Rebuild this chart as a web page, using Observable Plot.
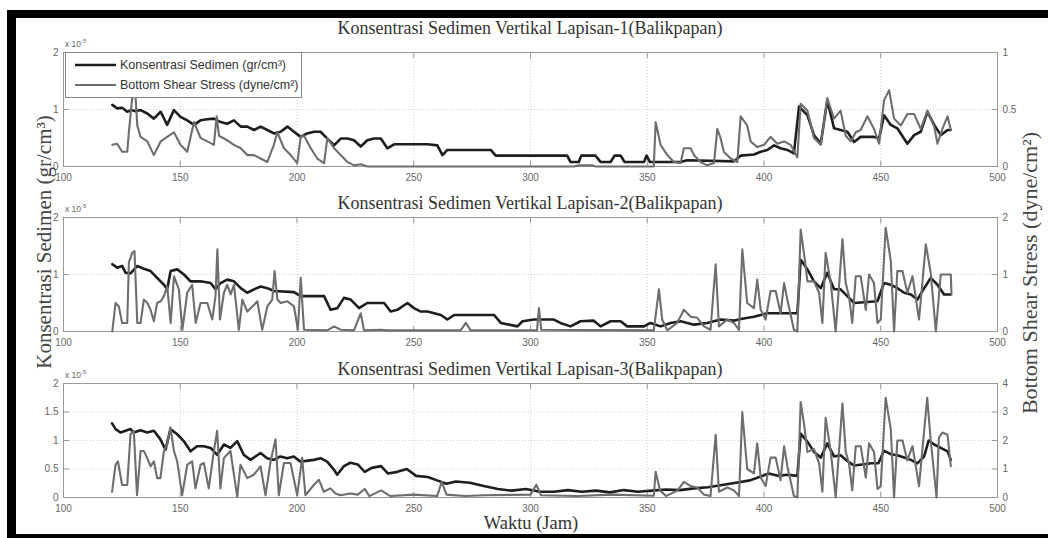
<!DOCTYPE html>
<html>
<head>
<meta charset="utf-8">
<script src="https://cdn.jsdelivr.net/npm/d3@7"></script>
<script src="https://cdn.jsdelivr.net/npm/@observablehq/plot@0.6"></script>
<style>
  html, body { margin: 0; padding: 0; background: #fff; }
  #wrap { position: relative; width: 1048px; height: 538px; overflow: hidden; background: #fff; }
  .panel { position: absolute; left: 0; }
  #overlay { position: absolute; left: 0; top: 0; pointer-events: none; }
</style>
</head>
<body>
<div id="wrap"></div>
<script>
// ---------------- DATA (hours, value) ----------------
const xTicks = [100, 150, 200, 250, 300, 350, 400, 450, 500];
const titles = [
  "Konsentrasi Sedimen Vertikal Lapisan-1(Balikpapan)",
  "Konsentrasi Sedimen Vertikal Lapisan-2(Balikpapan)",
  "Konsentrasi Sedimen Vertikal Lapisan-3(Balikpapan)"
];
const leftTicks1 = [0, 1, 2];
const leftTicks2 = [0, 1, 2];
const leftTicks3 = [0, 0.5, 1, 1.5, 2];
const rightTicks1 = [0, 0.5, 1];
const rightTicks2 = [0, 1, 2];
const rightTicks3 = [0, 1, 2, 3, 4];

// Konsentrasi Sedimen (x 10^-5 gr/cm3)
const sed1 = [[120.9,1.08],[123.0,1.02],[125.1,1.03],[127.3,0.96],[129.0,0.99],[130.9,0.97],[133.0,0.99],[135.9,0.93],[138.7,0.84],[141.6,0.96],[144.4,0.73],[147.3,0.99],[150.1,0.87],[153.0,0.81],[155.9,0.73],[158.7,0.81],[161.6,0.83],[164.4,0.84],[167.3,0.78],[170.1,0.75],[173.0,0.81],[175.9,0.70],[178.7,0.70],[181.6,0.64],[184.4,0.70],[187.3,0.64],[190.1,0.58],[193.0,0.61],[195.9,0.70],[198.7,0.61],[201.6,0.52],[204.4,0.58],[207.3,0.61],[210.1,0.61],[213.0,0.49],[215.9,0.37],[218.7,0.49],[221.6,0.49],[224.4,0.46],[227.3,0.35],[230.1,0.46],[233.0,0.49],[235.9,0.49],[238.7,0.32],[241.6,0.39],[255.9,0.39],[260.1,0.37],[262.3,0.20],[264.4,0.29],[283.0,0.29],[285.1,0.19],[315.7,0.19],[317.1,0.08],[320.7,0.08],[321.7,0.19],[327.8,0.19],[330.0,0.08],[334.3,0.08],[336.0,0.19],[338.6,0.19],[340.3,0.08],[348.6,0.08],[349.7,0.19],[351.1,0.08],[364.3,0.08],[367.1,0.11],[387.1,0.09],[390.0,0.19],[395.7,0.21],[398.6,0.26],[401.4,0.29],[404.3,0.37],[407.1,0.32],[410.0,0.29],[412.8,0.23],[415.0,1.05],[418.6,0.90],[421.4,0.55],[424.3,0.40],[427.1,1.16],[430.0,0.67],[432.8,0.64],[435.7,0.61],[438.6,0.43],[441.4,0.52],[447.1,0.52],[449.3,0.49],[451.4,0.90],[454.3,0.73],[457.1,0.67],[461.4,0.40],[464.3,0.55],[467.1,0.61],[470.0,0.96],[472.9,0.73],[475.7,0.55],[478.6,0.64],[480.0,0.64]];
const sed2 = [[120.9,1.18],[123.0,1.12],[125.1,1.15],[126.6,1.03],[128.7,1.02],[131.6,1.15],[134.4,1.10],[137.3,1.06],[140.1,0.94],[143.0,0.82],[144.4,0.74],[145.9,1.06],[148.7,1.09],[151.6,1.00],[154.4,0.88],[158.7,0.88],[163.0,0.85],[165.1,0.74],[167.3,0.85],[170.1,0.91],[173.0,0.88],[175.9,0.76],[178.7,0.68],[181.6,0.74],[184.4,0.79],[187.3,0.76],[190.1,0.71],[198.7,0.69],[201.6,0.62],[211.6,0.62],[214.4,0.38],[217.3,0.41],[220.1,0.59],[223.0,0.56],[226.6,0.41],[230.1,0.50],[237.3,0.50],[240.1,0.35],[243.0,0.38],[247.3,0.50],[250.1,0.41],[253.0,0.35],[255.9,0.35],[261.6,0.29],[264.4,0.21],[267.3,0.29],[284.4,0.29],[287.3,0.15],[294.4,0.09],[296.6,0.18],[301.4,0.21],[310.0,0.21],[312.8,0.15],[317.1,0.09],[321.4,0.18],[327.1,0.19],[330.0,0.09],[334.3,0.18],[338.6,0.18],[341.4,0.09],[348.6,0.09],[351.4,0.15],[355.7,0.09],[360.0,0.15],[364.3,0.18],[370.0,0.12],[375.7,0.15],[381.4,0.21],[387.1,0.19],[390.0,0.22],[395.7,0.26],[398.6,0.29],[401.4,0.32],[414.3,0.32],[415.7,1.26],[418.6,1.09],[421.4,0.88],[424.3,0.76],[427.1,1.03],[430.0,0.74],[432.8,0.74],[435.7,0.62],[438.6,0.50],[448.6,0.53],[451.4,0.85],[454.3,0.82],[457.1,0.76],[460.0,0.68],[462.9,0.65],[465.7,0.56],[468.6,0.76],[471.4,0.94],[474.3,0.82],[477.1,0.65],[480.0,0.65]];
const sed3 = [[120.8,1.30],[122.3,1.20],[124.4,1.14],[126.6,1.17],[128.7,1.20],[130.1,1.14],[133.0,1.18],[135.8,1.14],[138.7,1.17],[141.5,1.02],[143.7,0.84],[145.8,1.20],[148.7,1.11],[151.5,0.99],[154.4,0.81],[157.2,0.90],[160.1,0.90],[163.0,0.87],[165.8,0.75],[168.7,0.93],[171.5,0.87],[174.4,0.99],[177.2,0.75],[180.1,0.66],[184.4,0.78],[187.2,0.69],[190.1,0.66],[192.9,0.72],[195.8,0.69],[198.6,0.72],[201.5,0.63],[207.2,0.66],[210.1,0.69],[212.9,0.63],[215.8,0.49],[217.2,0.40],[220.1,0.55],[222.9,0.61],[226,0.58],[229,0.45],[232,0.52],[236,0.55],[239,0.42],[243,0.45],[247,0.50],[251,0.38],[256,0.36],[260,0.30],[264,0.24],[268,0.28],[274,0.26],[280,0.20],[286,0.15],[292,0.12],[298,0.15],[304,0.10],[310,0.10],[316,0.13],[322,0.10],[328,0.12],[334,0.09],[340,0.13],[346,0.10],[352,0.12],[358,0.14],[364,0.13],[370,0.16],[376,0.18],[382,0.22],[388,0.26],[394,0.30],[398,0.36],[402,0.42],[406,0.38],[410,0.40],[414.3,0.38],[415.7,1.12],[418.6,0.98],[421.4,0.80],[424.3,0.70],[427.1,0.95],[430,0.72],[432.8,0.74],[435.7,0.64],[438.6,0.56],[442,0.58],[446,0.60],[449,0.60],[451.4,0.82],[454.3,0.76],[457.1,0.74],[460,0.70],[462.9,0.66],[465.7,0.60],[468.6,0.72],[470.5,1.00],[472.9,0.93],[475.7,0.87],[478.6,0.81],[480,0.66]];

// Bottom Shear Stress (dyne/cm2), own (right-axis) units
const shear1 = [[120.9,0.19],[123.0,0.20],[125.1,0.13],[127.3,0.13],[128.0,0.30],[129.4,0.60],[130.1,0.61],[130.9,0.60],[131.6,0.36],[133.0,0.26],[135.9,0.22],[138.7,0.10],[141.6,0.22],[144.4,0.26],[147.3,0.30],[150.1,0.19],[153.0,0.13],[155.9,0.39],[158.7,0.25],[161.6,0.22],[164.4,0.19],[165.6,0.44],[166.6,0.27],[170.1,0.23],[173.0,0.19],[175.9,0.16],[178.7,0.10],[181.6,0.10],[184.4,0.07],[187.3,0.04],[190.1,0.19],[191.6,0.30],[194.4,0.16],[197.3,0.10],[200.1,0.03],[201.6,0.26],[203.0,0.27],[205.9,0.16],[208.7,0.07],[211.6,0.03],[213.0,0.25],[215.9,0.16],[218.7,0.10],[221.6,0.04],[224.4,0.01],[227.3,0.02],[230.1,0],[318.6,0],[320.7,0.01],[326.4,0.01],[327.8,0],[352.8,0],[353.6,0.39],[355.7,0.19],[358.6,0.10],[361.4,0.04],[364.3,0.03],[365.7,0.16],[368.6,0.16],[370.0,0.10],[372.8,0.04],[375.7,0.01],[378.6,0.03],[380.0,0.33],[381.4,0.25],[382.8,0.13],[385.7,0.07],[388.6,0.04],[390.0,0.44],[392.8,0.36],[394.3,0.22],[397.1,0.17],[400.0,0.19],[402.8,0.26],[405.7,0.20],[408.6,0.22],[411.4,0.19],[414.3,0.08],[415.7,0.55],[418.6,0.49],[421.4,0.25],[424.3,0.19],[427.1,0.60],[430.0,0.42],[432.8,0.49],[435.0,0.27],[437.1,0.22],[439.3,0.30],[441.4,0.32],[444.3,0.44],[447.1,0.33],[449.3,0.20],[451.4,0.58],[453.6,0.67],[455.7,0.42],[458.6,0.36],[461.4,0.46],[464.3,0.46],[467.1,0.33],[470.0,0.49],[472.9,0.35],[474.3,0.20],[476.4,0.33],[478.6,0.44],[480.0,0.32]];
const shear2 = [[120.9,0],[122.3,0.50],[123.7,0.44],[125.1,0.15],[127.3,0.15],[128.0,1.21],[129.4,1.38],[130.4,1.41],[131.6,0.15],[133.0,0.15],[134.4,0.56],[135.9,0.50],[137.3,0.38],[138.7,0.18],[140.1,0.50],[141.6,0.53],[143.0,0.62],[144.4,0.79],[145.9,0.15],[147.3,0.97],[149.4,0.74],[150.9,0.03],[153.0,0.68],[155.1,0.82],[156.6,0.15],[158.7,0.50],[161.6,0.50],[163.7,0.21],[165.1,0.62],[165.9,1.44],[167.0,0.21],[168.7,0.68],[170.1,0.82],[171.6,0.65],[173.0,0.82],[175.1,0.03],[176.6,0.56],[178.7,0.35],[180.9,0.44],[183.0,0.53],[185.1,0.03],[187.3,0.44],[189.4,0.56],[190.4,1.06],[191.6,0.56],[193.0,0.50],[195.9,0.53],[198.7,0.44],[200.4,0.03],[201.6,0.94],[203.0,0.03],[213.0,0.02],[215.9,0.09],[218.7,0.03],[224.4,0.02],[227.3,0.32],[228.7,0.02],[235.9,0.03],[238.7,0.02],[270.1,0.02],[272.3,0.15],[274.4,0.02],[302.8,0.02],[303.6,0.41],[304.6,0.03],[352.8,0.02],[355.0,0.74],[356.4,0.21],[358.6,0.02],[362.8,0.15],[365.7,0.38],[368.6,0.26],[371.4,0.24],[374.3,0.09],[377.1,0.03],[379.3,1.18],[380.7,0.09],[384.3,0.21],[387.1,0.15],[389.3,0.03],[390.7,1.44],[392.8,0.50],[395.7,0.41],[397.1,0.91],[398.6,0.38],[400.7,0.21],[402.8,0.71],[405.0,0.71],[407.1,0.32],[408.6,0.85],[410.0,0.56],[412.8,0.03],[414.3,0],[415.7,1.79],[417.1,1.38],[418.6,0.88],[421.4,0.88],[423.6,0.68],[425.0,0.15],[426.4,1.38],[428.6,0.85],[430.7,0],[433.6,1.62],[435.0,0.85],[436.4,0.62],[437.8,0.15],[439.3,0.97],[441.4,0.97],[443.6,0.38],[445.0,1.00],[447.1,0.85],[448.6,0.15],[450.0,0.21],[452.1,1.82],[454.3,1.24],[455.7,0],[457.1,1.06],[459.3,1.06],[461.4,0.68],[463.6,0.97],[466.4,0.21],[469.3,1.53],[471.4,1.03],[473.6,0],[475.7,1.00],[480.0,1.00],[480.3,0.65]];
const shear3 = [[120.8,0.20],[122.3,1.15],[123.3,1.27],[125.1,0.44],[127.3,0.44],[128.7,2.22],[130.1,2.34],[131.5,0.08],[133.0,1.63],[134.4,1.63],[135.8,1.39],[137.3,1.09],[138.7,1.27],[140.1,0.68],[141.5,0.68],[143.0,1.63],[144.4,1.86],[145.8,2.46],[147.3,1.63],[148.7,1.27],[150.8,0.08],[153.0,1.15],[155.1,1.27],[156.5,0.32],[158.7,1.15],[160.1,1.21],[162.2,0.32],[164.4,1.63],[165.8,2.34],[167.2,0.32],[168.7,1.39],[171.5,1.63],[174.4,0.02],[175.8,1.15],[178.7,0.68],[181.5,0.80],[184.4,1.09],[186.5,0.08],[188.7,1.27],[190.8,2.04],[192.2,0.08],[194.4,1.21],[197.2,1.21],[200.1,0.08],[202.2,1.39],[203.6,0.08],[207.2,0.44],[209.4,0.62],[211.5,0.20],[214.3,0.32],[216.5,0.14],[218.6,0.08],[222.9,0.14],[226,0.10],[229,0.30],[231,0.05],[236,0.25],[240,0.05],[250,0.10],[260,0.05],[262,0.55],[264,0.10],[272,0.05],[280,0.08],[300,0.10],[302.5,0.45],[304.5,0.08],[320,0.05],[335,0.10],[352.8,0.06],[353.6,0.90],[355.5,0.25],[358,0.05],[363,0.25],[365.7,0.55],[368.6,0.40],[371.4,0.35],[374.3,0.10],[377.1,0.05],[379.3,2.20],[380.7,0.20],[384.3,0.35],[387.1,0.25],[389.3,0.05],[390.7,3.00],[392.8,1.00],[395.7,0.85],[397.1,1.90],[398.6,0.70],[400.7,0.40],[402.8,1.40],[405,1.40],[407.1,0.60],[408.6,1.80],[410,1.10],[412.8,0.05],[414.3,0.00],[415.7,3.35],[417.1,2.60],[418.6,1.60],[421.4,1.70],[423.6,1.20],[425,0.20],[426.4,2.80],[428.6,1.60],[430.7,0.00],[433.6,3.30],[435,1.60],[436.4,1.20],[437.8,0.25],[439.3,1.80],[441.4,1.80],[443.6,0.70],[445,1.90],[447.1,1.60],[448.6,0.30],[450,0.40],[452.1,3.50],[454.3,2.40],[455.7,0.00],[457.1,2.00],[459.3,2.00],[461.4,1.30],[463.6,1.80],[466.4,0.40],[469.9,3.50],[471.4,2.00],[473.9,0.00],[474.9,2.10],[476.4,2.28],[478.6,2.20],[480,1.10]];

// ---------------- LAYOUT ----------------
const W = 1048, H = 538;
const mL = 63, mR = 51, mT = 10, mB = 22, innerH = 114;
const panels = [
  {sed: sed1, shear: shear1, left: leftTicks1, right: rightTicks1, top: 52, title: titles[0], titleY: 34},
  {sed: sed2, shear: shear2, left: leftTicks2, right: rightTicks2, top: 217, title: titles[1], titleY: 209},
  {sed: sed3, shear: shear3, left: leftTicks3, right: rightTicks3, top: 383, title: titles[2], titleY: 375}
];

const wrap = document.getElementById("wrap");
const tickFont = "Liberation Sans, Arial, sans-serif";

panels.forEach(p => {
  const rmax = d3.max(p.right);
  const lmax = d3.max(p.left);
  const sedData = p.sed.map(([t, v]) => ({t, v}));
  const shearData = p.shear.map(([t, v]) => ({t, v: v * lmax / rmax}));
  const rightPos = p.right.map(r => r * lmax / rmax);
  const chart = Plot.plot({
    width: W, height: innerH + mT + mB,
    marginLeft: mL, marginRight: mR, marginTop: mT, marginBottom: mB,
    x: {domain: [100, 500]},
    y: {domain: [0, lmax]},
    style: {fontSize: "10px", fontFamily: tickFont, color: "#666", background: "transparent", overflow: "visible"},
    marks: [
      Plot.gridX(xTicks, {stroke: "#bbb", strokeOpacity: 0.7, strokeDasharray: "1,2"}),
      Plot.gridY(p.left, {stroke: "#bbb", strokeOpacity: 0.7, strokeDasharray: "1,2"}),
      Plot.frame({stroke: "#999"}),
      Plot.axisX(xTicks, {anchor: "bottom", tickSize: -5, tickPadding: 12, label: null, stroke: "#999"}),
      Plot.axisX(xTicks, {anchor: "top", tickSize: -5, tickFormat: () => "", label: null, stroke: "#999"}),
      Plot.axisY(p.left, {anchor: "left", tickSize: -6, tickPadding: 11, label: null, stroke: "#999", tickFormat: d => String(d)}),
      Plot.axisY(rightPos, {anchor: "right", tickSize: -6, tickPadding: 11, label: null, stroke: "#999", tickFormat: (d) => String(+(d * rmax / lmax).toFixed(2))}),
      Plot.line(sedData, {x: "t", y: "v", stroke: "#1e1e1e", strokeWidth: 2.6, strokeLinejoin: "round"}),
      Plot.line(shearData, {x: "t", y: "v", stroke: "#6e6e6e", strokeWidth: 2.1, strokeLinejoin: "round"})
    ]
  });
  chart.classList.add("panel");
  chart.style.top = (p.top - mT) + "px";
  wrap.appendChild(chart);
});

// ---------------- OVERLAY TEXT, LEGEND, FRAME ----------------
const svg = d3.select(wrap).append("svg").attr("id", "overlay").attr("width", W).attr("height", H);
const serif = "Liberation Serif, Times New Roman, serif";

panels.forEach(p => {
  svg.append("text").attr("x", (mL + W - mR) / 2).attr("y", p.titleY)
    .attr("text-anchor", "middle").attr("font-family", serif).attr("font-size", 18)
    .attr("fill", "#333").text(p.title);
  const ex = svg.append("text").attr("x", 65).attr("y", p.top - 5)
    .attr("font-family", tickFont).attr("font-size", 8.5).attr("fill", "#666");
  ex.append("tspan").text("x 10");
  ex.append("tspan").attr("dy", -4).attr("font-size", 6).text("-5");
});

// Legend
const lg = svg.append("g");
lg.append("rect").attr("x", 65.5).attr("y", 52.5).attr("width", 236).attr("height", 45)
  .attr("fill", "#fff").attr("stroke", "#888").attr("stroke-width", 1);
const legendItems = [
  {label: "Konsentrasi Sedimen (gr/cm³)", color: "#1e1e1e", w: 2.6, y: 65},
  {label: "Bottom Shear Stress (dyne/cm²)", color: "#6e6e6e", w: 2.2, y: 85}
];
legendItems.forEach(it => {
  lg.append("line").attr("x1", 75).attr("x2", 116).attr("y1", it.y).attr("y2", it.y)
    .attr("stroke", it.color).attr("stroke-width", it.w);
  lg.append("text").attr("x", 120).attr("y", it.y + 4).attr("font-family", tickFont)
    .attr("font-size", 12.5).attr("fill", "#333").text(it.label);
});

// Axis labels
svg.append("text").attr("transform", "translate(51,242) rotate(-90)")
  .attr("text-anchor", "middle").attr("font-family", serif).attr("font-size", 21)
  .attr("fill", "#444").text("Konsentrasi Sedimen (gr/cm³)");
svg.append("text").attr("transform", "translate(1037,273) rotate(-90)")
  .attr("text-anchor", "middle").attr("font-family", serif).attr("font-size", 22)
  .attr("fill", "#444").text("Bottom Shear Stress (dyne/cm²)");
svg.append("text").attr("x", 531).attr("y", 529)
  .attr("text-anchor", "middle").attr("font-family", serif).attr("font-size", 18.5)
  .attr("fill", "#333").text("Waktu (Jam)");

// Black picture frame
svg.append("rect").attr("x", 7).attr("y", 10).attr("width", W - 7).attr("height", 8).attr("fill", "#000");
svg.append("rect").attr("x", 7).attr("y", 10).attr("width", 9).attr("height", H - 10).attr("fill", "#000");
svg.append("rect").attr("x", 7).attr("y", 534).attr("width", W - 7).attr("height", 4).attr("fill", "#000");
</script>
</body>
</html>
